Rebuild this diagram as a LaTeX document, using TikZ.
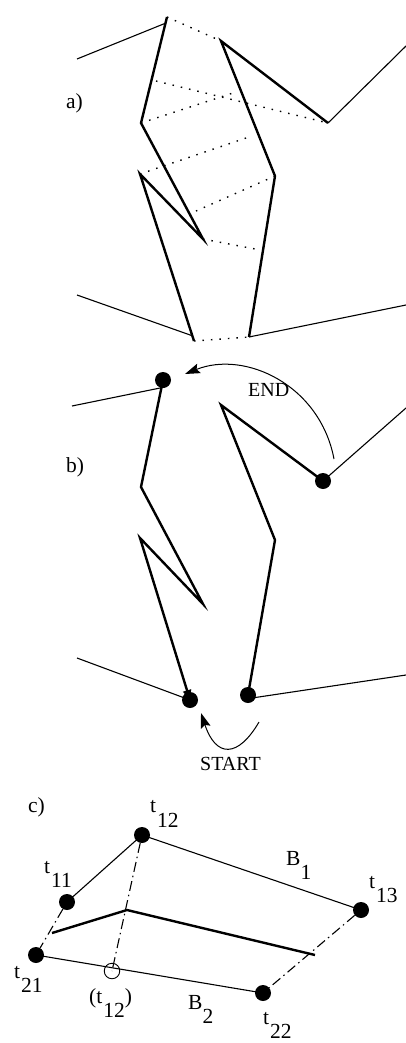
\documentclass[tikz,border=0pt]{standalone}
\usepackage{fontspec}
\setmainfont{Liberation Serif}
\usetikzlibrary{arrows.meta}
\newcommand{\lowered}[1]{\raisebox{-14.5pt}{#1}}
\tikzset{
  x=1pt,y=-1pt,
  thinline/.style={line width=1.1pt,line join=miter},
  thickline/.style={line width=2.4pt,line join=miter,miter limit=20},
  dotline/.style={line width=1.4pt,dash pattern=on 1.5pt off 7pt},
  dashdot/.style={line width=1.1pt,dash pattern=on 10pt off 4pt on 1.5pt off 4pt},
  dot/.style={circle,fill=black,draw=none,minimum size=16pt,inner sep=0pt},
  hollow/.style={circle,draw=black,line width=0.9pt,fill=none,minimum size=15.5pt,inner sep=0pt},
  lab/.style={font=\fontsize{21.5}{24}\selectfont,inner sep=0pt,anchor=base west},
  curvearrow/.style={line width=1pt,-{Stealth[length=15pt,width=10pt,inset=2.5pt]}},
}
\begin{document}
\begin{tikzpicture}
\useasboundingbox (0,0) rectangle (406,1043);
% ---------- a)
\node[lab] (la) at (66,109) {a)};
\coordinate (a1) at (77,59);
\coordinate (a2) at (167,17);
\coordinate (a2t) at (166,23);
\coordinate (a3) at (141,123);
\coordinate (a4) at (203,239);
\coordinate (a5) at (140,174);
\coordinate (a6) at (194,341);
\coordinate (a6t) at (193,336);
\coordinate (a7) at (77,295);
\coordinate (r1) at (406,46);
\coordinate (r2) at (328,123);
\coordinate (r3) at (221,41);
\coordinate (r4) at (275,176);
\coordinate (r5) at (249,337);
\coordinate (r6) at (406,305);
\coordinate (d1) at (156,81);
\coordinate (d2) at (233,93);
\coordinate (d3) at (252,136);
\coordinate (d4) at (196,211);
\coordinate (d5) at (255,249);
\draw[thinline] (a1) -- (a2t);
\draw[thinline] (a7) -- (a6t);
\draw[thinline] (r1) -- (r2);
\draw[thinline] (r5) -- (r6);
\draw[thickline] (a2) -- (a3) -- (a4) -- (a5) -- (a6);
\draw[thickline] (r2) -- (r3) -- (r4) -- (r5);
\draw[dotline] (a2) -- (r3);
\draw[dotline] (d1) -- (r2);
\draw[dotline] (a3) -- (d2);
\draw[dotline] (a5) -- (d3);
\draw[dotline] (r4) -- (d4);
\draw[dotline] (a4) -- (d5);
\draw[dotline] (a6) -- (r5);
% ---------- b)
\node[lab] (lb) at (66,472) {b)};
\node[dot] (b1) at (163,380) {};
\coordinate (b0) at (72,406);
\coordinate (b0e) at (165,387);
\coordinate (b2) at (141,487);
\coordinate (b3) at (203,604);
\coordinate (b4) at (140,538);
\node[dot] (b5) at (190,700) {};
\coordinate (b6) at (77,658);
\node[dot] (s1) at (323,481) {};
\coordinate (s0) at (406,408);
\coordinate (s2) at (221,405);
\coordinate (s3) at (275,540);
\node[dot] (s4) at (248,695) {};
\coordinate (s5) at (406,675);
\coordinate (s4e) at (252,698);
\draw[thinline] (b0) -- (b0e);
\draw[thinline] (b6) -- (b5.center);
\draw[thinline] (s0) -- (s1.center);
\draw[thinline] (s4e) -- (s5);
\draw[thickline,-{Stealth[length=10pt,width=8pt,inset=0pt]}] (b1.center) -- (b2) -- (b3) -- (b4) -- (b5.center);
\draw[thickline] (s1.center) -- (s2) -- (s3) -- (s4.center);
\coordinate (e0) at (334,459);
\coordinate (e1) at (185,374);
\coordinate (t0) at (259,722);
\coordinate (t1) at (201,713);
\draw[curvearrow] (e0) .. controls (320,385) and (245,350) .. (e1);
\draw[curvearrow] (t0) .. controls (238,758) and (216,758) .. (t1);
\node[lab] (lend) at (248,396) {\fontsize{20}{22}\selectfont END};
\node[lab] (lstart) at (200,770) {\fontsize{20}{22}\selectfont START};
% ---------- c)
\node[lab] (lc) at (28,812) {c)};
\node[dot] (t12) at (142,835) {};
\node[dot] (t11) at (67,902) {};
\node[dot] (t13) at (361,910) {};
\node[dot] (t21) at (36,955) {};
\node[dot] (t22) at (263,993) {};
\node[hollow] (c12) at (112,971) {};
\coordinate (m1) at (52,933);
\coordinate (m2) at (127,910);
\coordinate (m3) at (315,955);
\draw[thinline] (t11.center) -- (t12.center) -- (t13.center);
\draw[thinline] (t21.center) -- (t22.center);
\draw[thickline] (m1) -- (m2) -- (m3);
\draw[dashdot] (t11) -- (t21);
\draw[dashdot] (t12) -- (c12.center);
\draw[dashdot] (t13) -- (t22);
\node[lab] (n12) at (150,812.5) {t\hspace{1pt}\lowered{12}};
\node[lab] (n11) at (44,873) {t\hspace{1pt}\lowered{11}};
\node[lab] (n13) at (369,888) {t\hspace{1pt}\lowered{13}};
\node[lab] (n21) at (14,978) {t\hspace{1pt}\lowered{21}};
\node[lab] (n22) at (263,1024) {t\hspace{1pt}\lowered{22}};
\node[lab] (n0) at (89,1003) {(t\hspace{1pt}\lowered{12})};
\node[lab] (nb1) at (286,865) {B\lowered{1}};
\node[lab] (nb2) at (188,1009) {B\lowered{2}};
\end{tikzpicture}
\end{document}
